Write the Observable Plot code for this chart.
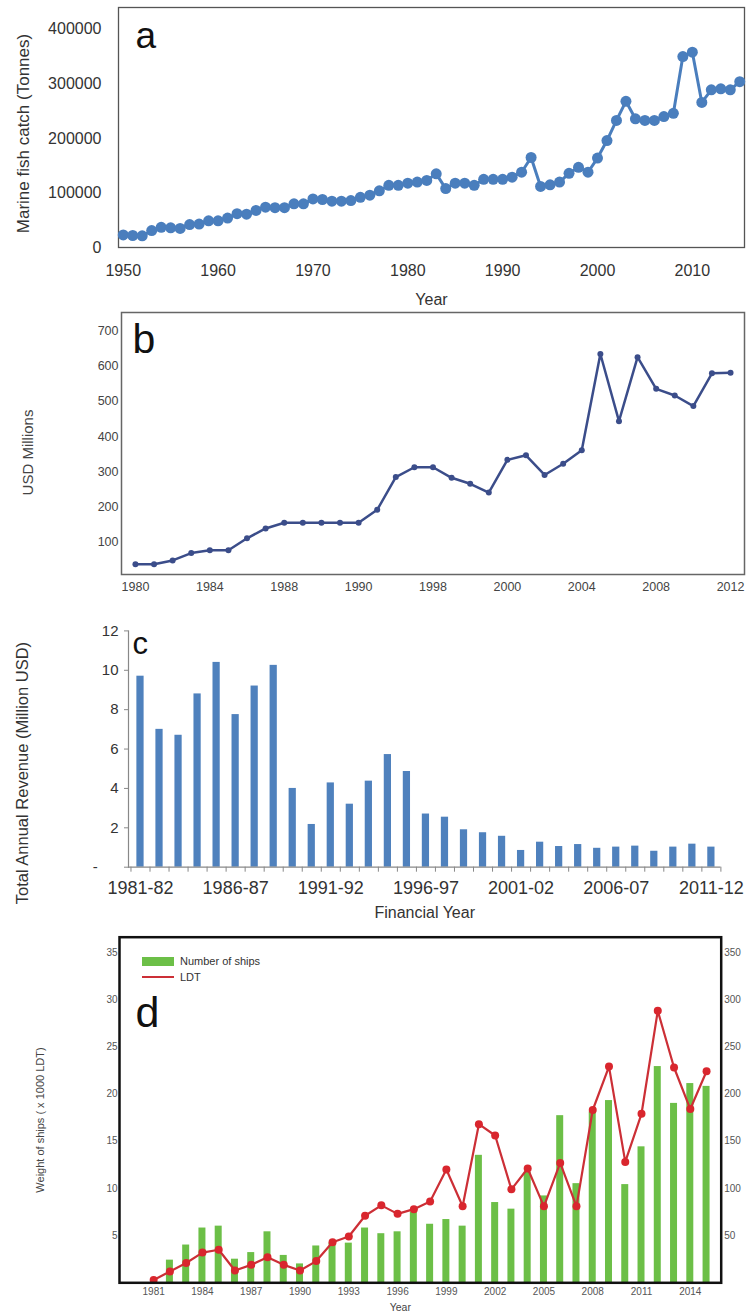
<!DOCTYPE html>
<html>
<head>
<meta charset="utf-8">
<script src="https://cdn.jsdelivr.net/npm/d3@7"></script>
<script src="https://cdn.jsdelivr.net/npm/@observablehq/plot@0.6"></script>
<style>
  body { margin: 0; background: #fff; width: 747px; }
  .panel { position: relative; width: 747px; }
  .panel svg { display: block; overflow: visible; }
  .legend { position: absolute; font-family: "Liberation Sans", Arial, sans-serif; font-size: 11px; color: #333; }
  .legend .row { position: absolute; white-space: nowrap; display: flex; align-items: center; }
  .legend .sw { display: inline-block; width: 32px; margin-right: 6px; }
</style>
</head>
<body>
<div id="a" class="panel"></div>
<div id="b" class="panel"></div>
<div id="c" class="panel"></div>
<div id="d" class="panel"></div>
<script>
// ---------- Panel a: marine fish catch ----------
const catchYears = [1950,1951,1952,1953,1954,1955,1956,1957,1958,1959,
  1960,1961,1962,1963,1964,1965,1966,1967,1968,1969,
  1970,1971,1972,1973,1974,1975,1976,1977,1978,1979,
  1980,1981,1982,1983,1984,1985,1986,1987,1988,1989,
  1990,1991,1992,1993,1994,1995,1996,1997,1998,1999,
  2000,2001,2002,2003,2004,2005,2006,2007,2008,2009,
  2010,2011,2012,2013,2014,2015];
const catchTonnes = [23000,22000,21500,31000,37000,36000,35000,42000,43000,49000,
  49000,54000,62000,61000,68000,74000,73000,73000,80000,80000,
  89000,88000,85000,85000,86000,92000,96000,104000,114000,114000,
  118000,120000,123000,135000,108000,118000,118000,114000,125000,125000,
  125000,129000,138000,165000,112000,115000,120000,136000,147000,138000,
  164000,196000,233000,268000,236000,233000,233000,240000,246000,350000,
  358000,266000,289000,291000,289000,304000];
const aXTicks = [1950,1960,1970,1980,1990,2000,2010];
const aYTicks = [0,100000,200000,300000,400000];

// ---------- Panel b: USD millions ----------
const bYears = [1980,1981,1982,1983,1984,1985,1986,1987,1988,1989,
  1990,1991,1992,1993,1994,1995,1996,1997,1998,1999,
  2000,2001,2002,2003,2004,2005,2006,2007,2008,2009,
  2010,2011,2012];
const bValues = [37,37,48,69,77,77,111,139,155,155,
  155,155,155,192,285,313,313,283,266,241,
  334,347,291,323,361,635,444,626,536,517,
  487,580,582];
const bTickYears = [1980,1984,1988,1992,1996,2000,2004,2008,2012];
const bTickLabels = ["1980","1984","1988","1990","1998","2000","2004","2008","2012"];
const bYTicks = [100,200,300,400,500,600,700];

// ---------- Panel c: total annual revenue ----------
const cLabels = ["1981-82","1982-83","1983-84","1984-85","1985-86","1986-87","1987-88","1988-89",
  "1989-90","1990-91","1991-92","1992-93","1993-94","1994-95","1995-96","1996-97","1997-98",
  "1998-99","1999-00","2000-01","2001-02","2002-03","2003-04","2004-05","2005-06","2006-07",
  "2007-08","2008-09","2009-10","2010-11","2011-12"];
const cValues = [9.7,7.0,6.7,8.8,10.4,7.75,9.2,10.25,4.0,2.17,4.28,3.2,4.37,5.72,4.86,2.7,
  2.54,1.9,1.75,1.57,0.85,1.27,1.05,1.15,0.96,1.02,1.07,0.81,1.02,1.17,1.02];
const cLabelEvery = [0,5,10,15,20,25,30];
const cYTicks = [0,2,4,6,8,10,12];

// ---------- Panel d: ships and LDT ----------
const dYears = [1981,1982,1983,1984,1985,1986,1987,1988,1989,1990,
  1991,1992,1993,1994,1995,1996,1997,1998,1999,2000,
  2001,2002,2003,2004,2005,2006,2007,2008,2009,2010,
  2011,2012,2013,2014,2015];
const dShips = [0,24,40,58,60,25,32,54,29,20,
  39,42,42,58,52,54,75,62,67,60,
  135,85,78,117,92,177,105,181,193,104,
  144,229,190,211,208];
const dLDT = [0.3,1.2,2.1,3.2,3.5,1.3,1.9,2.7,1.9,1.3,
  2.3,4.3,4.9,7.1,8.2,7.3,7.8,8.6,12.0,8.1,
  16.8,15.6,9.9,12.1,8.1,12.7,8.1,18.3,22.9,12.8,
  17.9,28.8,22.8,18.4,22.4];
const dXTicks = [1981,1984,1987,1990,1993,1996,1999,2002,2005,2008,2011,2014];
const dYTicks = [5,10,15,20,25,30,35];
const dLegend = ["Number of ships","LDT"];

const W = 747;
const ARIAL = "'Liberation Sans', Arial, sans-serif";

// ===== Panel a =====
const aData = catchYears.map((year, i) => ({year, value: catchTonnes[i]}));
const aColor = "#4a7ebd";
document.getElementById("a").append(Plot.plot({
  width: W, height: 305,
  marginLeft: 118, marginRight: 3, marginTop: 7, marginBottom: 58,
  style: {fontFamily: ARIAL, fontSize: "16px", color: "#333", background: "transparent", overflow: "visible"},
  x: {domain: [1949.5, 2015.5], ticks: aXTicks, tickFormat: "d", tickSize: 0, tickPadding: 17, label: null},
  y: {domain: [0, 440000], ticks: aYTicks, tickFormat: "d", tickSize: 0, tickPadding: 17, label: null},
  marks: [
    Plot.frame({stroke: "#555", strokeWidth: 1.3}),
    Plot.line(aData, {x: "year", y: "value", stroke: aColor, strokeWidth: 3}),
    Plot.dot(aData, {x: "year", y: "value", r: 5.5, fill: aColor, stroke: "none"}),
    Plot.text(["a"], {text: d => d, frameAnchor: "top-left", dx: 17, dy: 40, lineAnchor: "bottom", textAnchor: "start", fontSize: 37, fill: "#111"}),
    Plot.text(["Year"], {text: d => d, frameAnchor: "bottom", dy: 52, lineAnchor: "middle", fontSize: 16}),
    Plot.text(["Marine fish catch (Tonnes)"], {text: d => d, frameAnchor: "left", rotate: -90, dx: -95, dy: 6, lineAnchor: "middle", textAnchor: "middle", fontSize: 17})
  ]
}));

// ===== Panel b =====
const bData = bYears.map((year, i) => ({year, value: bValues[i]}));
const bColor = "#3b4d8a";
document.getElementById("b").append(Plot.plot({
  width: W, height: 295,
  marginLeft: 121, marginRight: 3, marginTop: 7, marginBottom: 26,
  style: {fontFamily: ARIAL, fontSize: "12.5px", color: "#444", background: "transparent", overflow: "visible"},
  x: {domain: [1979.25, 2012.75], ticks: bTickYears, tickFormat: d => bTickLabels[bTickYears.indexOf(d)], tickSize: 0, tickPadding: 8, label: null},
  y: {domain: [8, 753], ticks: bYTicks, tickSize: 0, tickPadding: 3, label: null},
  marks: [
    Plot.frame({stroke: "#666", strokeWidth: 1.5}),
    Plot.line(bData, {x: "year", y: "value", stroke: bColor, strokeWidth: 2.5}),
    Plot.dot(bData, {x: "year", y: "value", r: 3, fill: bColor, stroke: "none"}),
    Plot.text(["b"], {text: d => d, frameAnchor: "top-left", dx: 11, dy: 40, lineAnchor: "bottom", textAnchor: "start", fontSize: 41, fill: "#111"}),
    Plot.text(["USD Millions"], {text: d => d, frameAnchor: "left", rotate: -90, dx: -93, dy: 9, lineAnchor: "middle", textAnchor: "middle", fontSize: 15})
  ]
}));

// ===== Panel c =====
const cData = cLabels.map((label, i) => ({i, label, value: cValues[i]}));
const cBounds = cLabels.map((_, i) => i - 0.5).concat([cLabels.length - 0.5]);
document.getElementById("c").append(Plot.plot({
  width: W, height: 325,
  marginLeft: 128, marginRight: 26.6, marginTop: 30.4, marginBottom: 58.3,
  style: {fontFamily: ARIAL, fontSize: "15px", color: "#333", background: "transparent", overflow: "visible"},
  x: {domain: [-0.63, 30.5]},
  y: {domain: [0, 12]},
  marks: [
    Plot.rectY(cData, {x1: d => d.i - 0.19, x2: d => d.i + 0.19, y: "value", fill: "#4f81bd"}),
    Plot.ruleY([0], {stroke: "#888", strokeWidth: 1.2}),
    Plot.frame({anchor: "left", stroke: "#888", strokeWidth: 1.2}),
    Plot.axisY({ticks: cYTicks, tickFormat: d => d === 0 ? "-\u00a0\u00a0\u00a0\u00a0\u00a0" : String(d), tickSize: 4, tickPadding: 6, stroke: "#888", label: null, fontSize: 15}),
    Plot.axisX({ticks: cBounds, tickFormat: () => "", tickSize: 5, stroke: "#888", label: null}),
    Plot.axisX({ticks: cLabelEvery, tickFormat: i => cLabels[i], tickSize: 0, tickPadding: 14, label: null, fontSize: 18}),
    Plot.text(["c"], {text: d => d, frameAnchor: "top-left", dx: 4, dy: 23, lineAnchor: "bottom", textAnchor: "start", fontSize: 31, fill: "#111"}),
    Plot.text(["Financial Year"], {text: d => d, frameAnchor: "bottom", dy: 46, lineAnchor: "middle", fontSize: 16}),
    Plot.text(["Total Annual Revenue (Million USD)"], {text: d => d, frameAnchor: "left", rotate: -90, dx: -106, dy: 24, lineAnchor: "middle", textAnchor: "middle", fontSize: 16.5})
  ]
}));

// ===== Panel d =====
const dData = dYears.map((year, i) => ({year, ships: dShips[i], ldt: dLDT[i]}));
const green = "#6cbf47", red = "#cc2f36";
const dDiv = document.getElementById("d");
dDiv.append(Plot.plot({
  width: W, height: 389,
  marginLeft: 119, marginRight: 26.3, marginTop: 11.7, marginBottom: 31.7,
  style: {fontFamily: ARIAL, fontSize: "10px", color: "#555", background: "transparent", overflow: "visible"},
  x: {domain: [1978.9, 2015.9]},
  y: {domain: [0, 36.6]},
  marks: [
    Plot.rectY(dData, {x1: d => d.year - 0.215, x2: d => d.year + 0.215, y: d => d.ships / 10, fill: green}),
    Plot.line(dData, {x: "year", y: "ldt", stroke: red, strokeWidth: 2.2}),
    Plot.dot(dData, {x: "year", y: "ldt", r: 4, fill: "#d9262e", stroke: "none"}),
    Plot.frame({stroke: "#111", strokeWidth: 2.5}),
    Plot.axisX({ticks: dXTicks, tickFormat: "d", tickSize: 0, tickPadding: 5, label: null}),
    Plot.axisY({anchor: "left", ticks: dYTicks, tickSize: 0, tickPadding: 2, label: null}),
    Plot.axisY({anchor: "right", ticks: dYTicks, tickFormat: d => String(d * 10), tickSize: 0, tickPadding: 3, label: null}),
    Plot.text(["d"], {text: d => d, frameAnchor: "top-left", dx: 16, dy: 90, lineAnchor: "bottom", textAnchor: "start", fontSize: 43, fill: "#111"}),
    Plot.text(["Year"], {text: d => d, frameAnchor: "bottom", dx: -20, dy: 25, lineAnchor: "middle", fontSize: 10.5, fill: "#444"}),
    Plot.text(["Weight of ships ( x 1000 LDT)"], {text: d => d, frameAnchor: "left", rotate: -90, dx: -79, dy: 10, lineAnchor: "middle", textAnchor: "middle", fontSize: 11, fill: "#444"})
  ]
}));
// legend
const leg = document.createElement("div");
leg.className = "legend";
leg.style.left = "142px"; leg.style.top = "31px";
leg.innerHTML =
  `<div class="row" style="top:0;left:0;height:10px"><span class="sw" style="height:9px;background:${green}"></span>${dLegend[0]}</div>` +
  `<div class="row" style="top:16px;left:0;height:10px"><span class="sw" style="height:2px;background:${red}"></span>${dLegend[1]}</div>`;
dDiv.append(leg);
</script>
</body>
</html>
